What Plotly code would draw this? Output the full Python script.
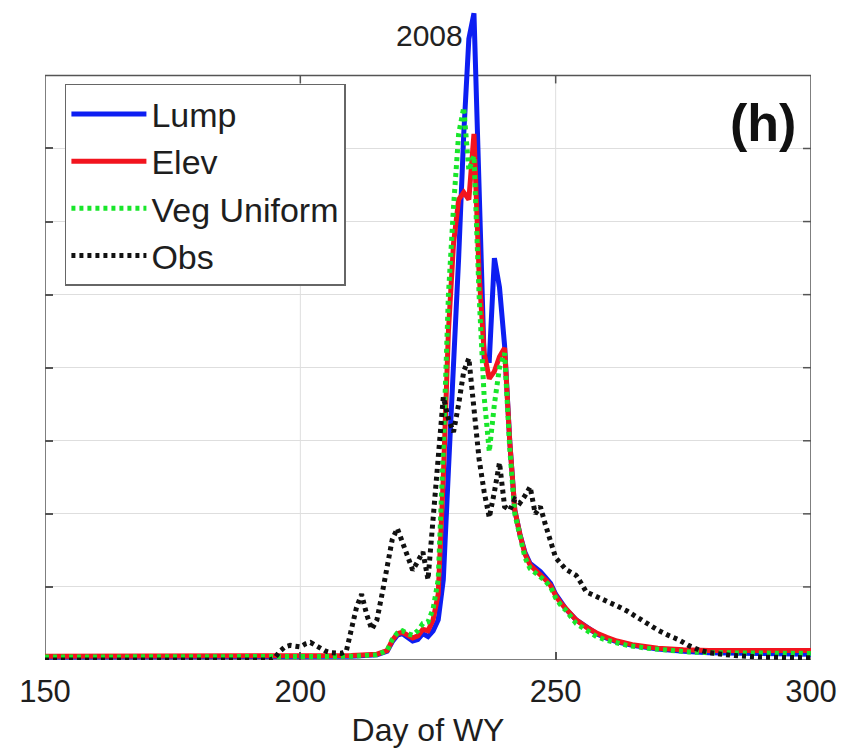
import plotly.graph_objects as go

# Day of water year and simulated / observed streamflow (axis units, 8 = top of frame)
lump_day = [150, 170, 190, 210, 215, 217, 218, 219, 220, 221, 222, 223, 224, 225, 226, 227, 228,
            229, 230, 231, 232, 233, 234, 235, 236, 237, 238, 239, 240, 241, 242, 243, 244,
            245, 246, 247, 248, 249, 250, 251, 252, 254, 256, 258, 260, 262, 265, 270, 275,
            280, 290, 300]
lump_q = [0.04, 0.04, 0.04, 0.05, 0.07, 0.12, 0.25, 0.34, 0.36, 0.3, 0.26, 0.28, 0.36, 0.32, 0.4,
          0.55, 1.1, 2.6, 3.9, 5.5, 7.2, 8.5, 8.85, 6.3, 4.1, 4.1, 5.5, 5.1, 4.3, 3.0, 2.05, 1.72,
          1.47, 1.32, 1.27, 1.21, 1.13, 1.05, 0.9, 0.79, 0.7, 0.55, 0.45, 0.36, 0.3, 0.25, 0.2,
          0.15, 0.12, 0.1, 0.09, 0.08]

elev_day = [150, 170, 190, 210, 215, 217, 218, 219, 220, 221, 222, 223, 224, 225, 226, 227, 228,
            229, 230, 231, 232, 233, 234, 235, 236, 237, 238, 239, 240, 241, 242, 243, 244,
            245, 246, 247, 248, 249, 250, 251, 252, 254, 256, 258, 260, 262, 265, 270, 275,
            280, 290, 300]
elev_q = [0.05, 0.05, 0.05, 0.06, 0.08, 0.13, 0.27, 0.36, 0.38, 0.33, 0.3, 0.33, 0.42, 0.4, 0.55,
          0.9, 2.5, 4.5, 5.7, 6.3, 6.4, 6.3, 7.2, 5.3, 4.2, 3.85, 3.95, 4.15, 4.27, 3.0, 2.05,
          1.72, 1.45, 1.3, 1.24, 1.18, 1.1, 1.02, 0.88, 0.78, 0.7, 0.55, 0.45, 0.37, 0.31, 0.26,
          0.21, 0.16, 0.14, 0.13, 0.13, 0.13]

veg_day = [150, 170, 190, 210, 215, 217, 218, 219, 220, 221, 222, 223, 224, 225, 226, 227, 228,
           229, 230, 231, 232, 233, 234, 235, 236, 237, 238, 239, 240, 241, 242, 243, 244,
           245, 246, 247, 248, 249, 250, 251, 252, 254, 256, 258, 260, 262, 264, 268, 272,
           276, 280, 290, 300]
veg_q = [0.04, 0.04, 0.04, 0.05, 0.07, 0.13, 0.28, 0.37, 0.4, 0.36, 0.34, 0.4, 0.5, 0.52, 0.7,
         1.1, 2.9, 5.0, 6.2, 7.2, 7.56, 6.7, 6.9, 5.0, 3.6, 2.85, 3.5, 4.0, 4.2, 2.9, 2.0, 1.68,
         1.4, 1.25, 1.2, 1.15, 1.08, 1.0, 0.85, 0.75, 0.68, 0.5, 0.4, 0.32, 0.27, 0.23, 0.2,
         0.16, 0.13, 0.11, 0.1, 0.09, 0.09]

obs_day = [150, 194, 195, 196, 197, 198, 199, 200, 201, 202, 203, 204, 205, 206, 207, 208, 209,
           210, 211, 212, 213, 214, 215, 216, 217, 218, 219, 220, 221, 222, 223, 224, 225, 226,
           227, 228, 229, 230, 231, 232, 233, 234, 235, 236, 237, 238, 239, 240, 241, 242, 243,
           244, 245, 246, 247, 248, 249, 250, 251, 252, 253, 254, 255, 256, 257, 258, 260, 262,
           264, 266, 268, 270, 272, 274, 276, 278, 280, 285, 290, 300]
obs_q = [0.0, 0.0, 0.03, 0.12, 0.18, 0.2, 0.19, 0.18, 0.22, 0.24, 0.2, 0.15, 0.12, 0.1, 0.09,
         0.09, 0.12, 0.4, 0.72, 0.9, 0.62, 0.42, 0.55, 0.9, 1.25, 1.65, 1.8, 1.6, 1.4, 1.23, 1.35,
         1.48, 1.1, 1.9, 2.8, 3.6, 3.3, 3.12, 3.5, 3.95, 4.13, 3.4, 2.75, 2.3, 1.95, 2.3, 2.7,
         2.1, 2.05, 2.2, 2.15, 2.25, 2.37, 2.0, 2.1, 1.85, 1.65, 1.4, 1.32, 1.24, 1.2, 1.16, 1.05,
         0.93, 0.9, 0.87, 0.8, 0.74, 0.67, 0.58, 0.49, 0.41, 0.34, 0.28, 0.2, 0.14, 0.1, 0.06,
         0.04, 0.03]

x_ticks = [150, 200, 250, 300]
x_grid = [200, 250]
y_grid = [1, 2, 3, 4, 5, 6, 7]
x_min, x_max = 150, 300
y_top = 8

FONT = "Liberation Sans, Arial, Helvetica, sans-serif"
FRAME = "#555555"
GRID = "#dedede"
dots = "4px,4px"

fig = go.Figure()
fig.add_trace(go.Scatter(x=lump_day, y=lump_q, name="Lump", mode="lines",
                         line=dict(color="#0d1ef2", width=5)))
fig.add_trace(go.Scatter(x=elev_day, y=elev_q, name="Elev", mode="lines",
                         line=dict(color="#f2141e", width=5)))
fig.add_trace(go.Scatter(x=veg_day, y=veg_q, name="Veg Uniform", mode="lines",
                         line=dict(color="#18e62a", width=5, dash=dots)))
fig.add_trace(go.Scatter(x=obs_day, y=obs_q, name="Obs", mode="lines",
                         line=dict(color="#111111", width=5, dash=dots)))

shapes = []
# vertical grid lines only inside the frame
for gx in x_grid:
    shapes.append(dict(type="line", xref="x", yref="y", x0=gx, x1=gx, y0=0, y1=y_top,
                       line=dict(color=GRID, width=1), layer="below"))
# axes box
shapes.append(dict(type="rect", xref="x", yref="y", x0=x_min, x1=x_max, y0=0, y1=y_top,
                   line=dict(color=FRAME, width=1.5), layer="between"))
# inward ticks on the top edge
for tx in x_ticks[1:-1]:
    shapes.append(dict(type="line", xref="x", yref="y", ysizemode="pixel", yanchor=y_top,
                       x0=tx, x1=tx, y0=0, y1=-8, line=dict(color=FRAME, width=1.5),
                       layer="between"))
# inward ticks on the right edge
for ty in y_grid:
    shapes.append(dict(type="line", xref="x", yref="y", xsizemode="pixel", xanchor=x_max,
                       x0=0, x1=-8, y0=ty, y1=ty, line=dict(color=FRAME, width=1.5),
                       layer="between"))

fig.update_layout(
    width=849, height=751,
    margin=dict(l=45, r=38, t=6, b=91),
    paper_bgcolor="white", plot_bgcolor="white",
    font=dict(family=FONT, color="#1e1e1e"),
    shapes=shapes,
    showlegend=True,
    legend=dict(x=0.026, y=0.881, xanchor="left", yanchor="top",
                bgcolor="white", bordercolor="#666666", borderwidth=1.5,
                font=dict(size=34, family=FONT, color="#1e1e1e"),
                itemwidth=75, tracegroupgap=0),
    xaxis=dict(range=[x_min, x_max], tickvals=x_ticks, ticks="inside", ticklen=8,
               tickcolor=FRAME, tickwidth=1.5, showgrid=False, zeroline=False,
               showline=False, tickfont=dict(size=31), ticklabelstandoff=10,
               title=dict(text="Day of WY", font=dict(size=32), standoff=10)),
    yaxis=dict(range=[0, 8.95], tickvals=y_grid, ticks="inside", ticklen=8,
               tickcolor=FRAME, tickwidth=1.5, showgrid=True, gridcolor=GRID, gridwidth=1,
               zeroline=False, showline=False, showticklabels=False),
    annotations=[
        dict(text="2008", x=225.2, y=8.55, xref="x", yref="y", showarrow=False,
             xanchor="center", yanchor="middle", font=dict(size=30, color="#222222")),
        dict(text="<b>(h)</b>", x=290.6, y=7.35, xref="x", yref="y", showarrow=False,
             xanchor="center", yanchor="middle", font=dict(size=52, color="#111111")),
    ],
)

fig.write_html("out.html")
